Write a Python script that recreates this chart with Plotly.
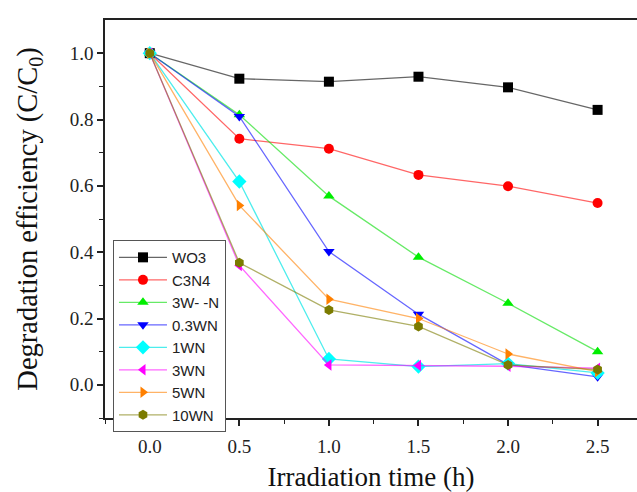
import plotly.graph_objects as go

time_h = [0.0, 0.5, 1.0, 1.5, 2.0, 2.5]
series_names = ["WO3", "C3N4", "3W- -N", "0.3WN", "1WN", "3WN", "5WN", "10WN"]
wo3 = [1.0, 0.923, 0.914, 0.929, 0.897, 0.829]
c3n4 = [1.0, 0.742, 0.712, 0.633, 0.599, 0.548]
w3_n = [1.0, 0.814, 0.569, 0.385, 0.246, 0.100]
wn03 = [1.0, 0.809, 0.402, 0.213, 0.061, 0.024]
wn1 = [1.0, 0.613, 0.078, 0.055, 0.064, 0.036]
wn3 = [1.0, 0.360, 0.060, 0.058, 0.056, 0.050]
wn5 = [1.0, 0.541, 0.258, 0.200, 0.093, 0.040]
wn10 = [1.0, 0.368, 0.226, 0.176, 0.060, 0.046]
all_values = [wo3, c3n4, w3_n, wn03, wn1, wn3, wn5, wn10]

x_ticks = [0.0, 0.5, 1.0, 1.5, 2.0, 2.5]
y_ticks = [0.0, 0.2, 0.4, 0.6, 0.8, 1.0]

marker_colors = ["#000000", "#FF0000", "#00EE00", "#0000FF", "#00FFFF", "#FF00FF", "#FF8000", "#7B7B00"]
line_colors = ["rgba(0,0,0,0.6)", "rgba(255,0,0,0.6)", "rgba(0,220,0,0.6)", "rgba(0,0,255,0.6)",
               "rgba(0,230,230,0.7)", "rgba(255,0,255,0.6)", "rgba(255,128,0,0.6)", "rgba(123,123,0,0.6)"]
symbols = ["square", "circle", "triangle-up", "triangle-down", "diamond", "triangle-left", "triangle-right", "hexagon"]

fig = go.Figure()
for name, vals, mc, lc, sym in zip(series_names, all_values, marker_colors, line_colors, symbols):
    fig.add_trace(go.Scatter(
        x=time_h, y=vals, name=name, mode="lines+markers",
        line=dict(color=lc, width=1.3),
        marker=dict(symbol=sym, size=10 if sym != "diamond" else 11, color=mc, line=dict(width=0)),
    ))

serif = "Liberation Serif, Times New Roman, serif"
fig.update_layout(
    width=637, height=492,
    margin=dict(l=105, r=0, t=20, b=74),
    paper_bgcolor="white", plot_bgcolor="white",
    showlegend=True,
    legend=dict(
        x=0.015, y=0.447, xanchor="left", yanchor="top",
        bgcolor="white", bordercolor="#555555", borderwidth=1,
        font=dict(family="Liberation Sans, Arial, sans-serif", size=15, color="#222222"),
        tracegroupgap=0, itemwidth=48,
    ),
    xaxis=dict(
        range=[-0.25, 2.72], tickvals=x_ticks, ticktext=[f"{v:.1f}" for v in x_ticks],
        showgrid=False, zeroline=False, automargin=False,
        showline=True, linecolor="#222222", linewidth=1.5, mirror=True,
        ticks="outside", ticklen=6, tickwidth=1.5, tickcolor="#222222", ticklabelstandoff=4,
        minor=dict(tickvals=[-0.25, 0.25, 0.75, 1.25, 1.75, 2.25], ticks="outside", ticklen=4, tickwidth=1.2, tickcolor="#222222"),
        tickfont=dict(family=serif, size=19, color="#222222"),
        title=dict(text="Irradiation time (h)", font=dict(family=serif, size=27, color="#111111"), standoff=16),
    ),
    yaxis=dict(
        range=[-0.1, 1.1], tickvals=y_ticks, ticktext=[f"{v:.1f}" for v in y_ticks],
        showgrid=False, zeroline=False, automargin=False,
        showline=True, linecolor="#222222", linewidth=1.5, mirror=False,
        ticks="outside", ticklen=6, tickwidth=1.5, tickcolor="#222222",
        minor=dict(tickvals=[-0.1, 0.1, 0.3, 0.5, 0.7, 0.9], ticks="outside", ticklen=4, tickwidth=1.2, tickcolor="#222222"),
        tickfont=dict(family=serif, size=19, color="#222222"),
        title=dict(text="Degradation efficiency (C/C<sub>0</sub>)", font=dict(family=serif, size=28.5, color="#111111"), standoff=24),
    ),
)

fig.write_html("out.html", config={"displayModeBar": False},
               post_script="document.body.style.margin='0px';document.body.style.padding='0px';")
